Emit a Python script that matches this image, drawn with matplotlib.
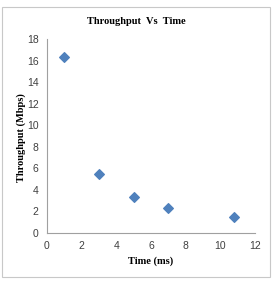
import matplotlib
matplotlib.use('Agg')
from matplotlib import pyplot as plt
from matplotlib.patches import Rectangle

# data
time_ms = [1, 3, 5, 7, 10.8]
throughput = [16.3, 5.5, 3.3, 2.35, 1.5]
xticks = [0, 2, 4, 6, 8, 10, 12]
yticks = [0, 2, 4, 6, 8, 10, 12, 14, 16, 18]

fig = plt.figure(figsize=(2.74, 2.81), dpi=100)
fig.patches.append(Rectangle((2 / 274, 4 / 281), 268 / 274, 270 / 281,
                             transform=fig.transFigure, fill=False,
                             edgecolor='#c8c8c8', lw=0.8))

ax = fig.add_axes([47 / 274, 48 / 281, 208 / 274, 194 / 281])
ax.scatter(time_ms, throughput, marker='D', s=24, color='#4f81bd', zorder=3)

ax.set_xlim(0, 12)
ax.set_ylim(0, 18)
ax.set_xticks(xticks)
ax.set_yticks(yticks)
for lbl in ax.get_xticklabels() + ax.get_yticklabels():
    lbl.set_fontfamily('Liberation Sans')
    lbl.set_fontsize(7.5)
    lbl.set_color('#404040')
ax.tick_params(axis='both', length=0, pad=6)
ax.spines['top'].set_visible(False)
ax.spines['right'].set_visible(False)
ax.spines['left'].set_color('#a0a0a0')
ax.spines['bottom'].set_color('#a0a0a0')
ax.spines['left'].set_linewidth(0.8)
ax.spines['bottom'].set_linewidth(0.8)

fig.text(136 / 274, 1 - 22 / 281, 'Throughput  Vs  Time', ha='center', va='center',
         fontfamily='Liberation Serif', fontweight='bold', fontsize=7.5)
fig.text(151 / 274, 1 - 261 / 281, 'Time (ms)', ha='center', va='center',
         fontfamily='Liberation Serif', fontweight='bold', fontsize=7.5)
fig.text(21 / 274, 1 - 138 / 281, 'Throughput (Mbps)', ha='center', va='center',
         rotation=90, fontfamily='Liberation Serif', fontweight='bold', fontsize=7.5)

fig.savefig('out.png', dpi=100)
